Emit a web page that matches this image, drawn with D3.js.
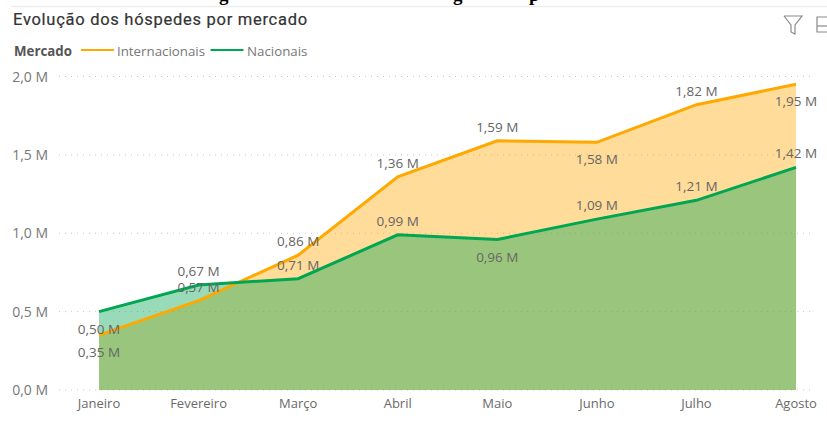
<!DOCTYPE html>
<html><head><meta charset="utf-8">
<style>html,body{margin:0;padding:0;background:#fff}svg{display:block}</style>
<script src="https://cdn.jsdelivr.net/npm/d3@7"></script></head><body>
<svg id="c" width="827" height="423"></svg>
<script>
const months = ["Janeiro","Fevereiro","Março","Abril","Maio","Junho","Julho","Agosto"];
const internacionais = [0.35,0.57,0.86,1.36,1.59,1.58,1.82,1.95];
const nacionais = [0.50,0.67,0.71,0.99,0.96,1.09,1.21,1.42];
const internacionaisBelow = [1,0,0,0,0,1,0,1];
const nacionaisBelow = [1,0,0,0,1,0,0,0];
const yTicks = [0,0.5,1,1.5,2];
const fmt = v => v.toFixed(2).replace(".",",")+" M";
const fmtT = v => v.toFixed(1).replace(".",",")+" M";
const svg = d3.select("#c");
const font = "'Open Sans',sans-serif";
const x = d3.scalePoint().domain(months).range([99,796]);
const y = d3.scaleLinear().domain([0,2]).range([390,76.5]);

// descenders of the cropped heading above the visual: only these slivers are visible
[["g",219],["g",453],["p",529]].forEach(g=>svg.append("text").attr("x",g[1]).attr("y",0.5).attr("font-family","'Liberation Serif',serif").attr("font-weight",700).attr("font-size",19).attr("fill","#000").text(g[0]));

svg.append("line").attr("x1",11).attr("x2",827).attr("y1",6.5).attr("y2",6.5).attr("stroke","#eeeeee").attr("stroke-width",1.5);
svg.append("text").attr("x",13).attr("y",25).attr("font-family","Roboto,sans-serif").attr("font-size",16.5).attr("fill","#333").attr("letter-spacing",0.72).attr("stroke","#333").attr("stroke-width",0.2).text("Evolução dos hóspedes por mercado");

// legend
svg.append("text").attr("x",14).attr("y",55.5).attr("font-family",font).attr("font-weight",700).attr("font-size",13.3).attr("fill","#555").text("Mercado");
const leg=[["Internacionais","#ffa800",81,117],["Nacionais","#00a651",210.5,247]];
leg.forEach(l=>{
 svg.append("line").attr("x1",l[2]).attr("x2",l[2]+33).attr("y1",50).attr("y2",50).attr("stroke",l[1]).attr("stroke-width",2);
 svg.append("text").attr("x",l[3]).attr("y",55.5).attr("font-family",font).attr("font-size",13.3).attr("fill","#777").text(l[0]);
});

// grid + axes
yTicks.forEach(t=>{
 svg.append("line").attr("x1",59).attr("x2",810).attr("y1",y(t)).attr("y2",y(t)).attr("stroke","#c8c8c8").attr("stroke-dasharray","1 5");
 svg.append("text").attr("x",48).attr("y",y(t)+5).attr("text-anchor","end").attr("font-family",font).attr("font-size",14).attr("fill","#777").text(fmtT(t));
});
months.forEach(m=>svg.append("text").attr("x",x(m)).attr("y",408).attr("text-anchor","middle").attr("font-family",font).attr("font-size",13).attr("fill","#6a6a6a").text(m));

const area = d3.area().x((d,i)=>x(months[i])).y0(y(0)).y1(d=>y(d));
const line = d3.line().x((d,i)=>x(months[i])).y(d=>y(d));
svg.append("path").attr("d",area(internacionais)).attr("fill","#ffa800").attr("fill-opacity",0.4);
svg.append("path").attr("d",area(nacionais)).attr("fill","#00a651").attr("fill-opacity",0.4);
svg.append("path").attr("d",line(internacionais)).attr("fill","none").attr("stroke","#ffa800").attr("stroke-width",3);
svg.append("path").attr("d",line(nacionais)).attr("fill","none").attr("stroke","#00a651").attr("stroke-width",3);

[[internacionais,internacionaisBelow],[nacionais,nacionaisBelow]].forEach(([s,b])=>{
 s.forEach((v,i)=>svg.append("text").attr("x",x(months[i])).attr("y",y(v)+(b[i]?22:-9)).attr("text-anchor","middle").attr("font-family",font).attr("font-size",13.5).attr("fill","#666").text(fmt(v)));
});

// filter icon
svg.append("path").attr("d",d3.line()([[784,16],[802,16],[795,25],[795,34],[791,32],[791,25],[784,16]])).attr("fill","none").attr("stroke","#8a8a8a").attr("stroke-width",1.2);
svg.append("path").attr("d",d3.line()([[827,17],[817,17],[817,32],[827,32]])).attr("fill","none").attr("stroke","#8a8a8a").attr("stroke-width",1.2);
svg.append("line").attr("x1",817).attr("x2",827).attr("y1",26).attr("y2",26).attr("stroke","#8a8a8a").attr("stroke-width",1.2);
</script></body></html>
